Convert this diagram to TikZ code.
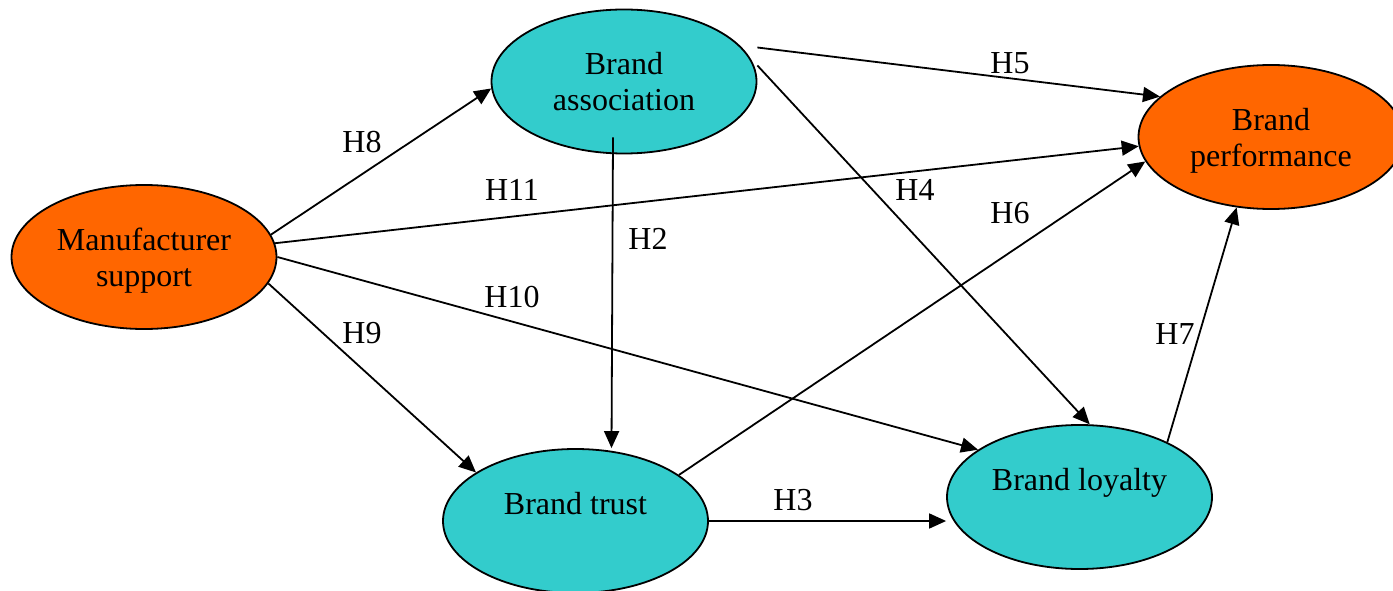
\documentclass[tikz,border=0pt]{standalone}
\usepackage{fontspec}
\setmainfont{Liberation Serif}
\usetikzlibrary{shapes.geometric,arrows.meta}
\definecolor{constructorange}{HTML}{FF6600}
\definecolor{constructteal}{HTML}{33CCCC}
\begin{document}
\begin{tikzpicture}[x=1pt,y=-1pt,
  construct/.style={ellipse, draw=black, line width=1.8pt,
    minimum width=265pt, minimum height=144pt, inner sep=0pt,
    text depth=0pt, align=center, font=\fontsize{32}{36}\selectfont},
  exo/.style={construct, fill=constructorange},
  endo/.style={construct, fill=constructteal},
  hpath/.style={-{Triangle[length=17pt,width=15pt]}, line width=1.8pt},
  hyp/.style={font=\fontsize{32}{36}\selectfont, inner sep=0pt}]
\useasboundingbox (0,0) rectangle (1393,591);
\clip (0,0) rectangle (1393,591);

% constructs
\node[exo]  (ms) at (144,257)    {Manufacturer\\support};
\node[endo] (ba) at (624,81.5)   {Brand\\association};
\node[exo]  (bp) at (1271,137)   {Brand\\performance};
\node[endo] (bt) at (575.5,521)  {Brand trust\\\mbox{}};
\node[endo] (bl) at (1079.5,497) {Brand loyalty\\\mbox{}};

% hypothesised paths
\draw[hpath] (ms.10)  -- (ba.183);
\draw[hpath] (ms.6.5) -- (bp.184);
\draw[hpath] (ms.0)   -- (bl.155);
\draw[hpath] (ms.348) -- (bt.154);
\draw[hpath] ([xshift=-11pt,yshift=17pt]ba.south) -- ([xshift=36pt]bt.north);
\draw[hpath] ([yshift=34pt]ba.east) -- (bp.160);
\draw[hpath] ([yshift=16pt]ba.east) -- (bl.82);
\draw[hpath] (bt.24) -- (bp.191);
\draw[hpath] (bt.east) -- (bt.east -| bl.west);
\draw[hpath] (bl.32) -- (bp.244);

% hypothesis labels
\node[hyp] (h8)  at (362,142)  {H8};
\node[hyp] (h11) at (512,190)  {H11};
\node[hyp] (h10) at (512,297)  {H10};
\node[hyp] (h9)  at (362,333)  {H9};
\node[hyp] (h2)  at (648,239)  {H2};
\node[hyp] (h5)  at (1010,63)  {H5};
\node[hyp] (h4)  at (915,190)  {H4};
\node[hyp] (h6)  at (1010,213) {H6};
\node[hyp] (h3)  at (793,500)  {H3};
\node[hyp] (h7)  at (1175,334) {H7};
\end{tikzpicture}
\end{document}
